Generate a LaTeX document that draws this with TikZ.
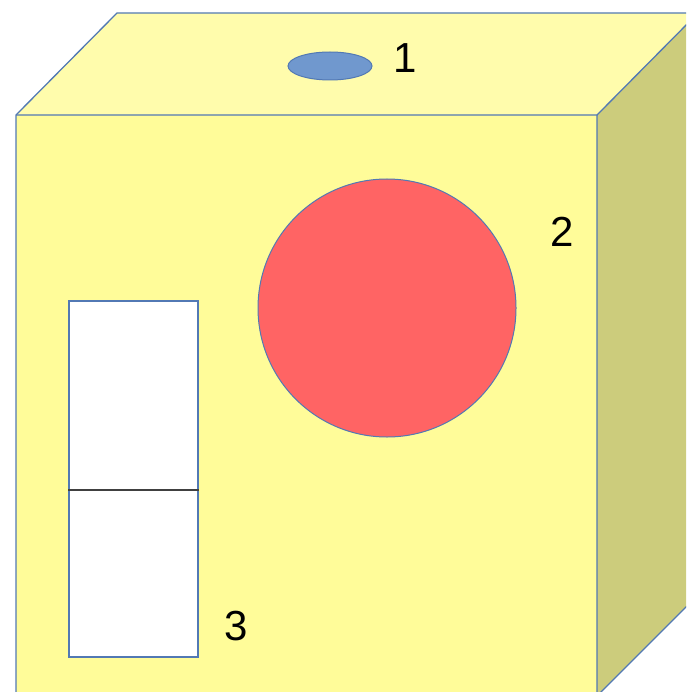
\documentclass[tikz,border=0pt]{standalone}
\usepackage{fontspec}
\setmainfont{Liberation Sans}
\usetikzlibrary{shapes.geometric}
\definecolor{topface}{RGB}{255,252,172}
\definecolor{frontface}{RGB}{255,252,153}
\definecolor{sideface}{RGB}{204,204,124}
\definecolor{edgeblue}{RGB}{82,121,180}
\definecolor{holeblue}{RGB}{112,152,206}
\definecolor{diskred}{RGB}{255,100,100}
\begin{document}
\begin{tikzpicture}[x=1pt, y=-1pt,
  face/.style={draw=edgeblue, line width=1.3pt, line join=round},
  hole/.style={ellipse, draw=edgeblue, line width=1pt, fill=holeblue,
               minimum width=84pt, minimum height=28pt, inner sep=0pt},
  disk/.style={circle, draw=edgeblue, line width=1pt, fill=diskred,
               minimum size=258pt, inner sep=0pt},
  door/.style={rectangle, draw=edgeblue, line width=1.2pt, fill=white,
               minimum width=129pt, minimum height=356pt, inner sep=0pt},
  tag/.style={font=\fontsize{42}{48}\selectfont, inner sep=0pt}
]
  \useasboundingbox (0,0) rectangle (686,692);
  \clip (0,0) rectangle (686,692);

  % cube
  \fill[topface] (16,115) -- (117,13) -- (698,13) -- (597,115) -- cycle;
  \fill[sideface] (597,115) -- (698,13) -- (698,595) -- (597,696) -- cycle;
  \fill[frontface] (16,115) rectangle (597,696);
  \draw[face] (16,696) -- (16,115) -- (117,13) -- (698,13);
  \draw[face] (16,115) -- (597,115) -- (698,13);
  \draw[face] (597,115) -- (597,696) -- (698,595);

  \node[hole] (hole) at (330,66) {};
  \node[disk] (disk) at (387,308) {};
  \node[door] (door) at (133.5,479) {};
  \draw[black!75, line width=1.2pt] (door.west |- 0,490) -- (door.east |- 0,490);

  \node[tag] (hole_l) at (405,58)  {1};
  \node[tag] (disk_l) at (562,232) {2};
  \node[tag] (door_l) at (236,626) {3};
\end{tikzpicture}
\end{document}
